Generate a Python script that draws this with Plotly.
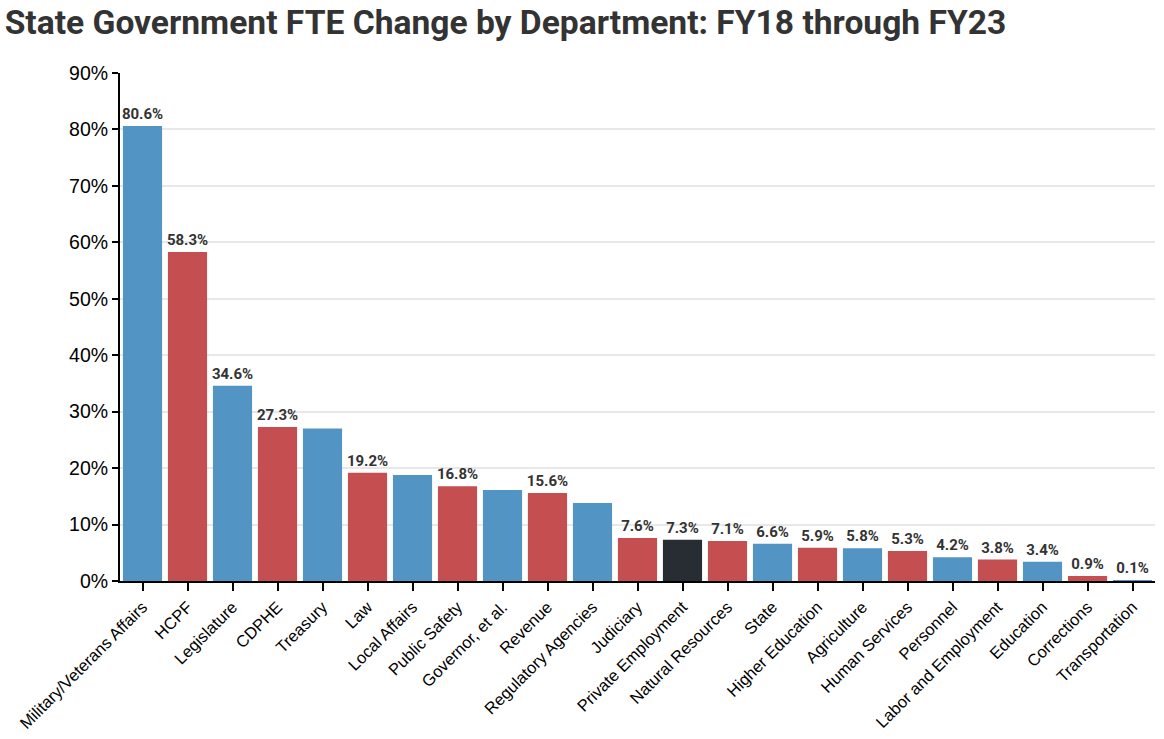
import plotly.graph_objects as go

departments = ["Military/Veterans Affairs", "HCPF", "Legislature", "CDPHE", "Treasury", "Law",
               "Local Affairs", "Public Safety", "Governor, et al.", "Revenue", "Regulatory Agencies",
               "Judiciary", "Private Employment", "Natural Resources", "State", "Higher Education",
               "Agriculture", "Human Services", "Personnel", "Labor and Employment", "Education",
               "Corrections", "Transportation"]
fte_change = [80.6, 58.3, 34.6, 27.3, 27.0, 19.2, 18.8, 16.8, 16.1, 15.6, 13.8,
              7.6, 7.3, 7.1, 6.6, 5.9, 5.8, 5.3, 4.2, 3.8, 3.4, 0.9, 0.1]
show_label = [True, True, True, True, False, True, False, True, False, True, False,
              True, True, True, True, True, True, True, True, True, True, True, True]
group = ["blue", "red", "blue", "red", "blue", "red", "blue", "red", "blue", "red", "blue",
         "red", "dark", "red", "blue", "red", "blue", "red", "blue", "red", "blue", "red", "blue"]

palette = {"blue": "#5294c4", "red": "#c44e50", "dark": "#282c33"}
colors = [palette[g] for g in group]
texts = [f"{v:.1f}%" if s else "" for v, s in zip(fte_change, show_label)]

fig = go.Figure(go.Bar(
    x=departments, y=fte_change, marker=dict(color=colors, line=dict(width=0)),
    text=texts, textposition="outside", cliponaxis=False, constraintext="none",
    textfont=dict(family="Roboto", size=15, color="#333333", weight="bold"),
))

fig.update_layout(
    width=1164, height=739,
    margin=dict(l=120, r=9, t=73, b=158, autoexpand=False),
    paper_bgcolor="white", plot_bgcolor="white",
    bargap=0.13,
    showlegend=False,
    title=dict(text="<b>State Government FTE Change by Department: FY18 through FY23</b>",
               x=0.004, xanchor="left", y=0.97, yanchor="middle",
               font=dict(family="Roboto", size=33.6, color="#333333")),
    font=dict(family="Liberation Sans", color="#000000"),
)
fig.update_yaxes(range=[0, 90], dtick=10, ticksuffix="%", showline=True, linecolor="black",
                 linewidth=2, ticks="outside", ticklen=6, tickcolor="black", tickwidth=2,
                 gridcolor="#e8e8e8", gridwidth=1.5, zeroline=False,
                 tickfont=dict(family="Liberation Sans", size=19.5, color="#000000"))
fig.update_xaxes(tickangle=-45, showline=True, linecolor="black", linewidth=2,
                 ticks="outside", ticklen=8, tickcolor="black", tickwidth=2,
                 tickfont=dict(family="Liberation Sans", size=16.5, color="#000000"))

fig.write_html("out.html", config={"displayModeBar": False},
               post_script="document.body.style.margin='0';")
